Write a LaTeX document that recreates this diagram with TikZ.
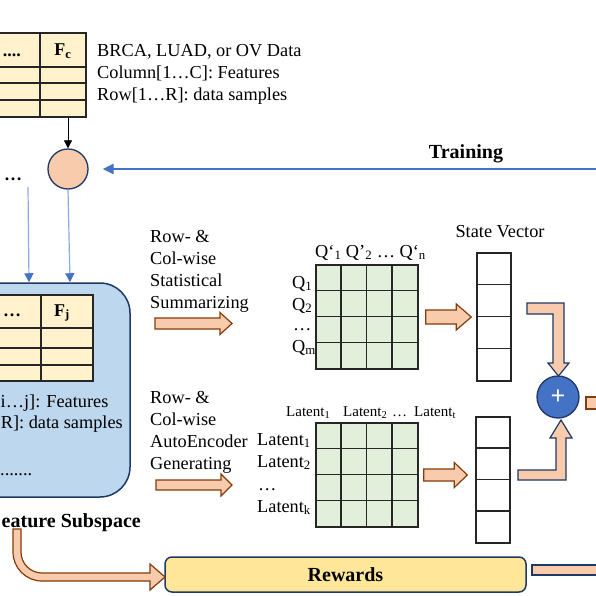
\documentclass[tikz,border=0pt]{standalone}
\usepackage{fontspec}
\setmainfont{Liberation Serif}
\usetikzlibrary{arrows.meta,positioning,calc}
\definecolor{peach}{HTML}{F8CBAD}
\definecolor{rust}{HTML}{843C0C}
\definecolor{navy}{HTML}{1F3864}
\definecolor{cream}{HTML}{FFF2CC}
\definecolor{sage}{HTML}{E2EFDA}
\definecolor{sky}{HTML}{BDD7EE}
\definecolor{royal}{HTML}{4472C4}
\definecolor{paleblue}{HTML}{8FAADC}
\definecolor{butter}{HTML}{FFE699}
\definecolor{ink}{HTML}{262626}

\tikzset{
  txt/.style={font=\fontsize{18.3}{22}\selectfont, inner sep=0pt, align=left},
  small/.style={font=\fontsize{15}{18}\selectfont, inner sep=0pt},
  heading/.style={font=\fontsize{20}{24}\selectfont\bfseries, inner sep=0pt},
  cell/.style={draw=ink, line width=1.4pt},
  fatarrow/.style={fill=peach, draw=rust, line width=1.2pt, line join=miter},
  navyarrow/.style={fill=peach, draw=navy, line width=1.2pt, line join=miter},
  thinblue/.style={paleblue, line width=1.2pt, -{Triangle[length=9pt,width=9pt,color=royal]}},
}

% horizontal block arrow: from, to, shaft half, head half, head length
\newcommand{\blockarrow}[5]{%
  \draw[fatarrow] let \p1=#1, \p2=#2 in
    (\x1,{\y1+#3}) -- ({\x2-#5},{\y1+#3}) -- ({\x2-#5},{\y1+#4}) -- (\x2,\y1)
    -- ({\x2-#5},{\y1-#4}) -- ({\x2-#5},{\y1-#3}) -- (\x1,{\y1-#3}) -- cycle;}

\begin{document}
\begin{tikzpicture}[x=1pt, y=-1pt]
  \useasboundingbox (0,0) rectangle (596,596);
  \fill[white] (0,0) rectangle (596,596);
  \clip (0,0) rectangle (596,596);

  % input data table
  \node[cell, fill=cream, minimum width=146pt, minimum height=84pt, inner sep=0pt] (datatab) at (13,75) {};
  \draw[cell] (40,33) -- (40,117);
  \foreach \y in {67,83,100} \draw[cell] (-60,\y) -- (86,\y);
  \node[txt, anchor=base east, font=\fontsize{18}{22}\selectfont\bfseries] (datadots) at (21,57) {....};
  \node[txt, anchor=base, font=\fontsize{18}{22}\selectfont\bfseries] (fc) at (63,56) {F\textsubscript{c}};
  \node[txt, anchor=north west] (datainfo) at (97,44) {BRCA, LUAD, or OV Data\\Column[1…C]: Features\\Row[1…R]: data samples};

  % selection node
  \node[circle, fill=peach, draw=navy, line width=1.3pt, minimum size=40pt, inner sep=0pt] (merge) at (68,169) {};
  \node[txt, anchor=base west, font=\fontsize{18}{22}\selectfont\bfseries] (dotsleft) at (4,180) {…};
  \draw[-{Triangle[length=8pt,width=8pt]}, line width=0.8pt] (datatab.south -| merge) -- (merge.north);

  % training feedback
  \coordinate (trainsrc) at (600,169);
  \draw[royal, line width=2.5pt, -{Triangle[length=11pt,width=10pt]}] (trainsrc) -- ([xshift=14pt]merge.east);
  \node[heading, anchor=base] (trainlbl) at (466,158) {Training};

  % feature subspace
  \node[draw=navy, fill=sky, line width=1.5pt, rounded corners=30pt, minimum width=190pt, minimum height=214pt, inner sep=0pt] (subbox) at (35,390) {};
  \coordinate (leftsrc) at (28,187);
  \draw[thinblue] (leftsrc) -- ([xshift=1pt]subbox.north -| leftsrc);
  \draw[thinblue] (merge.south) -- ([xshift=2pt]subbox.north -| merge);

  \node[cell, fill=cream, minimum width=153pt, minimum height=86pt, inner sep=0pt] (subtab) at (16.5,338) {};
  \draw[cell] (41,295) -- (41,381);
  \foreach \y in {328,348,365} \draw[cell] (-60,\y) -- (93,\y);
  \node[txt, anchor=base west, font=\fontsize{18}{22}\selectfont\bfseries] (subdots) at (3,316) {…};
  \node[txt, anchor=base, font=\fontsize{18}{22}\selectfont\bfseries] (fj) at (62,316) {F\textsubscript{j}};
  \node[txt, anchor=base west] (colrange) at (0.5,407) {i…j]: Features};
  \node[txt, anchor=base east] (rowrange) at (123,428) {R]: data samples};
  \node[txt, anchor=base west] (moredots) at (0,475) {.......};
  \node[heading, anchor=base east] (sublbl) at (141,527) {eature Subspace};

  % statistical branch
  \node[txt, anchor=north west] (statsum) at (150,230) {Row- \&\\Col-wise\\Statistical\\Summarizing};
  \coordinate (sumL) at (155,323.5);
  \coordinate (sumR) at (232,323.5);
  \blockarrow{(sumL)}{(sumR)}{5.5pt}{11pt}{12pt}

  \node[draw=ink, fill=sage, line width=1.4pt, minimum width=102pt, minimum height=104pt, inner sep=0pt] (qgrid) at (367,317) {};
  \foreach \i in {1,2,3} {
    \draw[cell] ($(qgrid.north west)+(\i*25.5,0)$) -- ($(qgrid.south west)+(\i*25.5,0)$);
    \draw[cell] ($(qgrid.north west)+(0,\i*26)$) -- ($(qgrid.north east)+(0,\i*26)$);
  }
  \node[txt, anchor=base west] (qcols) at (315,257) {Q‘\textsubscript{1} Q'\textsubscript{2} … Q‘\textsubscript{n}};
  \node[txt, anchor=base west] (q1) at (292,288) {Q\textsubscript{1}};
  \node[txt, anchor=base west] (q2) at (292,310) {Q\textsubscript{2}};
  \node[txt, anchor=base west] (qdots) at (293,330) {…};
  \node[txt, anchor=base west] (qm) at (292,352) {Q\textsubscript{m}};

  \node[draw=ink, fill=white, line width=1.4pt, minimum width=34pt, minimum height=128pt, inner sep=0pt] (svtop) at (494,317) {};
  \foreach \i in {1,2,3}
    \draw[cell] ($(svtop.north west)+(0,\i*32)$) -- ($(svtop.north east)+(0,\i*32)$);
  \node[txt, anchor=base] (svlbl) at (500,237) {State Vector};
  \blockarrow{([xshift=7pt]qgrid.east)}{([xshift=-5pt]svtop.west)}{7pt}{13pt}{15pt}

  % autoencoder branch
  \node[txt, anchor=north west] (aegen) at (150,391) {Row- \&\\Col-wise\\AutoEncoder\\Generating};
  \coordinate (genL) at (156,485);
  \coordinate (genR) at (232,485);
  \blockarrow{(genL)}{(genR)}{5pt}{11pt}{11pt}

  \node[draw=ink, fill=sage, line width=1.4pt, minimum width=102pt, minimum height=104pt, inner sep=0pt] (lgrid) at (367,475) {};
  \foreach \i in {1,2,3} {
    \draw[cell] ($(lgrid.north west)+(\i*25.5,0)$) -- ($(lgrid.south west)+(\i*25.5,0)$);
    \draw[cell] ($(lgrid.north west)+(0,\i*26)$) -- ($(lgrid.north east)+(0,\i*26)$);
  }
  \node[small, anchor=base west] (lc1) at (286,416) {Latent\textsubscript{1}};
  \node[small, anchor=base west] (lc2) at (343,416) {Latent\textsubscript{2}};
  \node[small, anchor=base west] (lcdots) at (392,416) {…};
  \node[small, anchor=base west] (lct) at (414,416) {Latent\textsubscript{t}};
  \node[txt, anchor=base west] (lr1) at (257,445) {Latent\textsubscript{1}};
  \node[txt, anchor=base west] (lr2) at (257,467) {Latent\textsubscript{2}};
  \node[txt, anchor=base west] (lrdots) at (258,490) {…};
  \node[txt, anchor=base west] (lrk) at (257,512) {Latent\textsubscript{k}};

  \node[draw=ink, fill=white, line width=1.4pt, minimum width=34pt, minimum height=126pt, inner sep=0pt] (svbot) at (493,480) {};
  \foreach \i in {1,2,3}
    \draw[cell] ($(svbot.north west)+(0,\i*31.5)$) -- ($(svbot.north east)+(0,\i*31.5)$);
  \blockarrow{([xshift=5pt]lgrid.east)}{([xshift=-8pt]svbot.west)}{6pt}{12.5pt}{13pt}

  % fusion
  \node[circle, fill=royal, draw=navy, line width=1.3pt, minimum size=42pt, inner sep=0pt,
        text=white, font=\fontsize{26}{26}\selectfont\bfseries] (plus) at (558,397) {+};
  \draw[navyarrow] (527,303) -- (564,303) -- (564,363) -- (569,363) -- (558.5,376)
    -- (548,363) -- (553,363) -- (553,314) -- (527,314) -- cycle;
  \draw[navyarrow] (518,470) -- (556,470) -- (556,438) -- (550,438) -- (561,420)
    -- (572,438) -- (566,438) -- (566,480) -- (518,480) -- cycle;
  \draw[fatarrow] (586,397) rectangle (600,409);

  % rewards
  \node[draw=navy, fill=butter, line width=1.5pt, rounded corners=7pt, minimum width=361pt, minimum height=35pt,
        inner sep=0pt, font=\fontsize{20}{24}\selectfont\bfseries] (rewards) at (345.5,574.5) {Rewards};
  \draw[fatarrow] (21,529) -- (21,552) arc[start angle=180, end angle=90, radius=21]
    -- (150,573) -- (150,564) -- (165,577) -- (150,590) -- (150,581) -- (42,581)
    arc[start angle=90, end angle=180, radius=29] -- (13,529) -- cycle;
  \draw[navyarrow] (532,565) rectangle (600,575);
\end{tikzpicture}
\end{document}
